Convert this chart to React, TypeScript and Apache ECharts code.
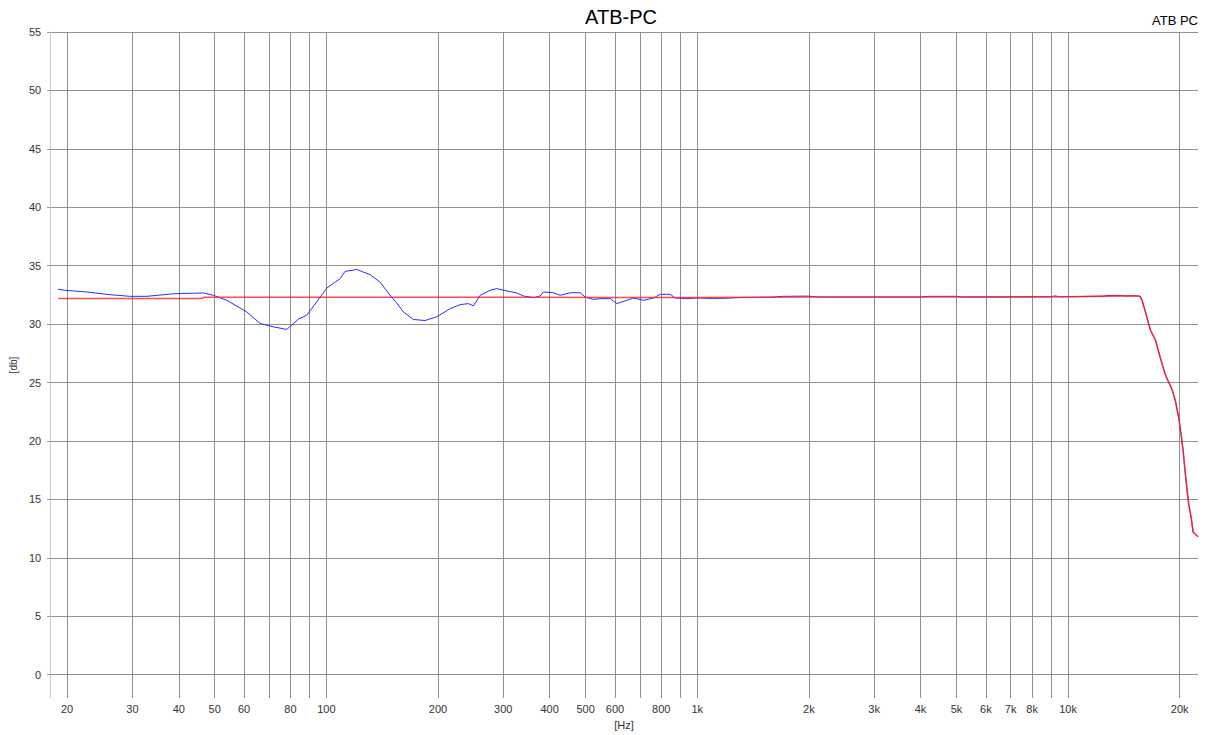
import React, { useEffect, useRef } from 'react';
import * as echarts from 'echarts';

const FONT = '"Liberation Sans", Arial, sans-serif';

// Grid / tick values (Hz)
const xGridValues = [20, 30, 40, 50, 60, 70, 80, 90, 100, 200, 300, 400, 500, 600, 700, 800, 900, 1000, 2000, 3000, 4000, 5000, 6000, 7000, 8000, 9000, 10000, 20000];
const xLabelValues = [20, 30, 40, 50, 60, 80, 100, 200, 300, 400, 500, 600, 800, 1000, 2000, 3000, 4000, 5000, 6000, 7000, 8000, 10000, 20000];
const yTickValues = [0, 5, 10, 15, 20, 25, 30, 35, 40, 45, 50, 55];

// Measured response (blue), up to 1 kHz
const blueFreq = [18.9, 19.7, 22.6, 25.6, 29.5, 32.8, 38.7, 46.6, 49.6, 53.9, 61.0, 66.3, 71.9, 78.2, 84.0, 88.5, 94.2, 100.3, 108.9, 112.3, 120.8, 131.2, 139.6, 148.5, 154, 161.3, 171.6, 184.5, 198.5, 215.7, 229.5, 241.6, 249.2, 259.8, 276.4, 288.2, 306.6, 326.3, 340.0, 361.7, 377.1, 384.9, 409.6, 427.1, 454.5, 483.5, 498.6, 525.3, 547.5, 582.6, 607.3, 646.0, 673.1, 716.6, 762.5, 794.9, 845.8, 872.5, 938];
const blueDb = [32.98, 32.9, 32.75, 32.55, 32.38, 32.38, 32.6, 32.67, 32.47, 32.04, 31.05, 30.06, 29.77, 29.55, 30.42, 30.76, 31.9, 33.09, 33.89, 34.51, 34.68, 34.23, 33.6, 32.47, 31.9, 31.05, 30.4, 30.31, 30.63, 31.33, 31.67, 31.76, 31.56, 32.47, 32.9, 33.04, 32.84, 32.67, 32.41, 32.27, 32.41, 32.75, 32.69, 32.47, 32.69, 32.69, 32.32, 32.12, 32.18, 32.18, 31.76, 32.04, 32.24, 32.04, 32.24, 32.55, 32.55, 32.24, 32.18];

// Measured response (blue), 1 kHz to 15.5 kHz (close to the target)
const blueHiFreq = [1000, 1100, 1200, 1300, 1600, 1700, 2000, 2100, 4000, 4200, 5000, 5200, 9000, 9200, 9500, 12500, 12700, 14000, 14200, 15000, 15500];
const blueHiDb = [32.24, 32.2, 32.22, 32.28, 32.31, 32.38, 32.4, 32.32, 32.32, 32.38, 32.38, 32.32, 32.34, 32.42, 32.34, 32.39, 32.46, 32.46, 32.42, 32.42, 32.41];

// Target / smoothed response (red)
const redFreq = [18.9, 46, 47, 100, 300, 600, 1000, 2000, 5000, 10000, 13000, 15000, 15500];
const redDb = [32.2, 32.2, 32.3, 32.3, 32.3, 32.28, 32.28, 32.32, 32.32, 32.35, 32.4, 32.42, 32.41];

// High-frequency roll-off (shared by both curves)
const rollFreq = [15650, 15830, 16160, 16670, 17200, 17740, 18300, 19080, 19480, 19880, 20170, 20430, 20630, 20940, 21150, 21470, 21740, 22050, 22400];
const rollDb = [32.35, 32.04, 31.05, 29.49, 28.64, 27.08, 25.65, 24.38, 23.39, 21.97, 20.55, 19.13, 17.71, 15.73, 14.58, 13.45, 12.18, 12.03, 11.81];

const zip = (f: number[], d: number[]) => f.map((v, i) => [v, d[i]]);

const fmtHz = (v: number) => (v >= 1000 ? `${Math.round(v / 1000)}k` : `${Math.round(v)}`);

export default function App() {
  const ref = useRef<HTMLDivElement>(null);

  useEffect(() => {
    if (!ref.current) return;
    const chart = echarts.init(ref.current, null, { renderer: 'svg' });
    const blueData = zip(blueFreq, blueDb).concat(zip(blueHiFreq, blueHiDb), zip(rollFreq, rollDb));
    const redData = zip(redFreq, redDb).concat(zip(rollFreq, rollDb));
    chart.setOption({
      animation: false,
      backgroundColor: '#ffffff',
      textStyle: { fontFamily: FONT },
      grid: { left: 49, right: 11, top: 32, bottom: 33.5 },
      graphic: [
        {
          type: 'text',
          x: 621,
          y: 17,
          style: { text: 'ATB-PC', fontSize: 20, fill: '#000', fontFamily: FONT, textAlign: 'center', textVerticalAlign: 'middle' },
        },
        {
          type: 'text',
          x: 1198,
          y: 20,
          style: { text: 'ATB PC', fontSize: 13, fill: '#000', fontFamily: FONT, textAlign: 'right', textVerticalAlign: 'middle' },
        },
      ],
      xAxis: {
        type: 'log',
        logBase: 10,
        min: 18,
        max: 22400,
        name: '[Hz]',
        nameLocation: 'middle',
        nameGap: 15,
        nameTextStyle: { fontSize: 11, color: '#333', fontFamily: FONT },
        axisLine: { show: false },
        axisTick: { show: false, customValues: xGridValues },
        axisLabel: { customValues: xLabelValues, formatter: (v: number) => fmtHz(v), margin: 5, fontSize: 11, color: '#333', fontFamily: FONT },
        splitLine: { show: true, lineStyle: { color: '#909090', width: 1 } },
        minorSplitLine: { show: false },
      },
      yAxis: {
        type: 'value',
        min: -2,
        max: 55,
        name: '[db]',
        nameLocation: 'middle',
        nameGap: 28,
        nameTextStyle: { fontSize: 10, color: '#333', fontFamily: FONT },
        axisLine: { show: true, lineStyle: { color: '#c8c8c8' } },
        axisTick: { show: true, length: 3, customValues: yTickValues, lineStyle: { color: '#909090' } },
        axisLabel: { customValues: yTickValues, margin: 9, fontSize: 11, color: '#333', fontFamily: FONT },
        splitLine: { show: true, lineStyle: { color: '#909090', width: 1 } },
      },
      series: [
        {
          name: 'measured',
          type: 'line',
          data: blueData,
          symbol: 'none',
          showSymbol: false,
          lineStyle: { color: '#2b2bff', width: 1 },
          z: 2,
        },
        {
          name: 'target',
          type: 'line',
          data: redData,
          symbol: 'none',
          showSymbol: false,
          lineStyle: { color: '#ff2020', width: 1.6, opacity: 0.8 },
          z: 3,
        },
      ],
    });
    return () => chart.dispose();
  }, []);

  return (
    <div
      ref={ref}
      style={{ position: 'absolute', left: 0, top: 0, width: 1209, height: 735, background: '#fff' }}
    />
  );
}
